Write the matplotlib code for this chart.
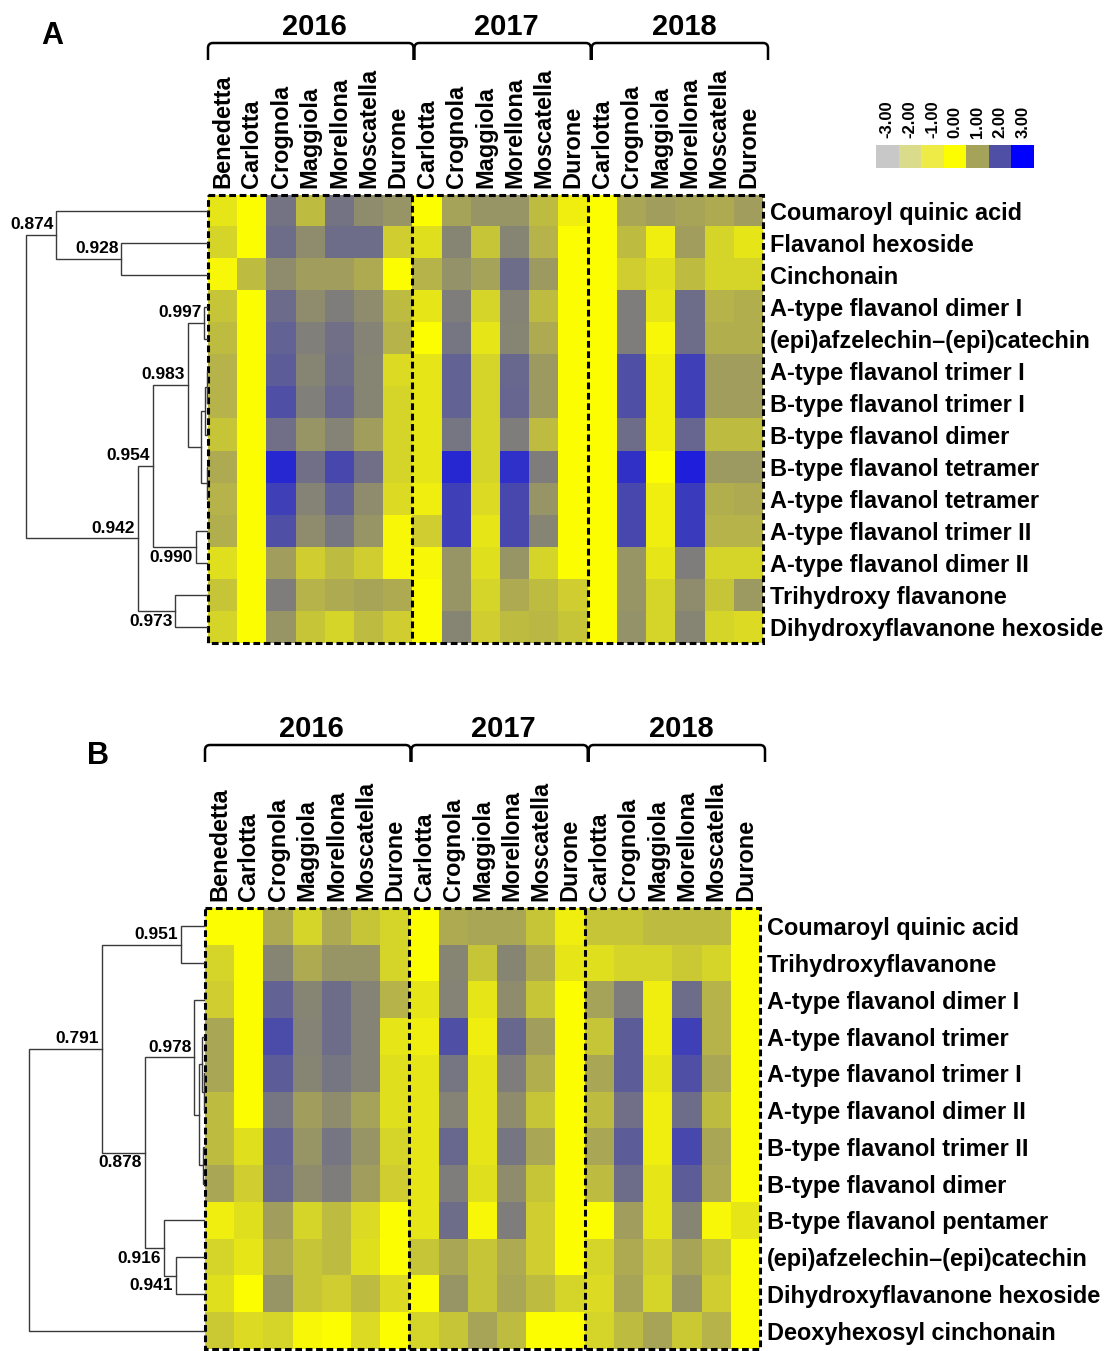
import numpy as np
import matplotlib
matplotlib.use("Agg")
import matplotlib.pyplot as plt
from matplotlib.colors import LinearSegmentedColormap
from matplotlib.patches import Rectangle, PathPatch
from matplotlib.path import Path

plt.rcParams["font.family"] = ["Liberation Sans", "DejaVu Sans"]
plt.rcParams["font.weight"] = "bold"

# ---- data ----
years = ["2016", "2017", "2018"]
cols_2016 = ["Benedetta", "Carlotta", "Crognola", "Maggiola", "Morellona", "Moscatella", "Durone"]
cols_2017 = ["Carlotta", "Crognola", "Maggiola", "Morellona", "Moscatella", "Durone"]
cols_2018 = ["Carlotta", "Crognola", "Maggiola", "Morellona", "Moscatella", "Durone"]
columns = cols_2016 + cols_2017 + cols_2018
group_sizes = [len(cols_2016), len(cols_2017), len(cols_2018)]

legend_values = [-3, -2, -1, 0, 1, 2, 3]
legend_colors = ["#c8c8c8", "#dcdc8c", "#eeea46", "#ffff00", "#a5a25a", "#5050a5", "#0000ff"]

rows_a = ["Coumaroyl quinic acid", "Flavanol hexoside", "Cinchonain", "A-type flavanol dimer I",
          "(epi)afzelechin\u2013(epi)catechin", "A-type flavanol trimer I", "B-type flavanol trimer I",
          "B-type flavanol dimer", "B-type flavanol tetramer", "A-type flavanol tetramer",
          "A-type flavanol trimer II", "A-type flavanol dimer II", "Trihydroxy flavanone",
          "Dihydroxyflavanone hexoside"]

a_2016 = [[0.26, 0, 1.56, 0.72, 1.56, 1.25, 1.15],
          [0.45, 0, 1.63, 1.25, 1.63, 1.63, 0.52],
          [0.08, 0.72, 1.25, 1.05, 1.05, 0.90, 0],
          [0.62, 0, 1.66, 1.25, 1.45, 1.25, 0.72],
          [0.72, 0, 1.76, 1.42, 1.60, 1.38, 0.80],
          [0.80, 0, 1.85, 1.34, 1.63, 1.34, 0.38],
          [0.80, 0, 2.00, 1.42, 1.72, 1.34, 0.45],
          [0.62, 0, 1.60, 1.15, 1.38, 1.05, 0.45],
          [0.90, 0, 2.50, 1.60, 2.10, 1.60, 0.45],
          [0.80, 0, 2.20, 1.38, 1.76, 1.25, 0.38],
          [0.86, 0, 2.00, 1.25, 1.53, 1.15, 0.08],
          [0.34, 0, 1.05, 0.52, 0.72, 0.52, 0.08],
          [0.62, 0, 1.45, 0.80, 0.90, 0.98, 0.90],
          [0.45, 0, 1.15, 0.62, 0.45, 0.72, 0.52]]
a_2017 = [[0, 1.00, 1.15, 1.15, 0.72, 0.17],
          [0.34, 1.34, 0.62, 1.34, 0.80, 0],
          [0.80, 1.18, 1.00, 1.63, 1.10, 0],
          [0.26, 1.45, 0.45, 1.38, 0.72, 0],
          [0, 1.53, 0.26, 1.34, 0.90, 0],
          [0.26, 1.76, 0.45, 1.70, 1.10, 0],
          [0.26, 1.76, 0.45, 1.72, 1.10, 0],
          [0.26, 1.53, 0.45, 1.45, 0.72, 0],
          [0.26, 2.50, 0.45, 2.40, 1.45, 0],
          [0.17, 2.20, 0.38, 2.10, 1.15, 0],
          [0.52, 2.20, 0.26, 2.10, 1.34, 0],
          [0.08, 1.15, 0.34, 1.15, 0.45, 0],
          [0, 1.15, 0.45, 0.90, 0.72, 0.52],
          [0, 1.34, 0.52, 0.72, 0.76, 0.62]]
a_2018 = [[0, 0.94, 1.05, 0.98, 0.90, 1.05],
          [0, 0.72, 0.17, 1.05, 0.45, 0.26],
          [0, 0.52, 0.34, 0.72, 0.45, 0.45],
          [0, 1.45, 0.26, 1.63, 0.80, 0.86],
          [0, 1.45, 0.08, 1.63, 0.86, 0.86],
          [0, 2.00, 0.17, 2.20, 1.05, 1.05],
          [0, 2.00, 0.17, 2.20, 1.05, 1.05],
          [0, 1.63, 0.17, 1.72, 0.72, 0.72],
          [0, 2.38, 0, 2.60, 1.10, 1.10],
          [0, 2.10, 0.17, 2.25, 0.86, 0.90],
          [0, 2.10, 0.17, 2.25, 0.80, 0.80],
          [0, 1.15, 0.26, 1.45, 0.45, 0.45],
          [0, 1.15, 0.45, 1.25, 0.62, 1.10],
          [0, 1.18, 0.45, 1.34, 0.45, 0.38]]

rows_b = ["Coumaroyl quinic acid", "Trihydroxyflavanone", "A-type flavanol dimer I",
          "A-type flavanol trimer", "A-type flavanol trimer I", "A-type flavanol dimer II",
          "B-type flavanol trimer II", "B-type flavanol dimer", "B-type flavanol pentamer",
          "(epi)afzelechin\u2013(epi)catechin", "Dihydroxyflavanone hexoside", "Deoxyhexosyl cinchonain"]

b_2016 = [[0, 0, 0.90, 0.45, 0.90, 0.62, 0.45],
          [0.45, 0, 1.34, 0.90, 1.15, 1.15, 0.45],
          [0.52, 0, 1.76, 1.34, 1.63, 1.38, 0.80],
          [0.94, 0, 2.05, 1.38, 1.63, 1.38, 0.26],
          [0.94, 0, 1.85, 1.34, 1.53, 1.38, 0.34],
          [0.72, 0, 1.53, 1.05, 1.25, 1.00, 0.34],
          [0.72, 0.34, 1.76, 1.15, 1.53, 1.15, 0.45],
          [0.94, 0.52, 1.70, 1.25, 1.45, 1.05, 0.52],
          [0.17, 0.34, 1.05, 0.45, 0.72, 0.38, 0],
          [0.45, 0.26, 0.90, 0.62, 0.72, 0.34, 0],
          [0.34, 0, 1.15, 0.62, 0.52, 0.72, 0.38],
          [0.58, 0.38, 0.45, 0.08, 0, 0.38, 0]]
b_2017 = [[0, 0.90, 0.94, 0.94, 0.62, 0.17],
          [0, 1.34, 0.62, 1.34, 0.90, 0.26],
          [0.26, 1.38, 0.26, 1.25, 0.62, 0],
          [0.17, 2.00, 0.17, 1.70, 1.05, 0],
          [0.26, 1.53, 0.26, 1.45, 0.86, 0],
          [0.26, 1.38, 0.26, 1.25, 0.62, 0],
          [0.26, 1.70, 0.26, 1.53, 0.94, 0],
          [0.26, 1.45, 0.34, 1.25, 0.62, 0],
          [0.26, 1.63, 0.08, 1.45, 0.52, 0],
          [0.62, 0.94, 0.62, 0.90, 0.52, 0],
          [0, 1.15, 0.62, 0.94, 0.72, 0.45],
          [0.45, 0.62, 0.98, 0.72, 0, 0]]
b_2018 = [[0.62, 0.62, 0.72, 0.72, 0.72, 0],
          [0.34, 0.45, 0.45, 0.58, 0.45, 0],
          [1.00, 1.45, 0.17, 1.63, 0.80, 0],
          [0.62, 1.85, 0.17, 2.20, 0.80, 0],
          [0.94, 1.85, 0.26, 2.00, 0.94, 0],
          [0.72, 1.60, 0.17, 1.63, 0.72, 0],
          [0.94, 1.85, 0.17, 2.10, 0.94, 0],
          [0.72, 1.63, 0.26, 1.85, 0.90, 0],
          [0, 1.05, 0.26, 1.34, 0.08, 0.26],
          [0.45, 0.90, 0.52, 0.98, 0.62, 0],
          [0.38, 0.98, 0.45, 1.15, 0.52, 0],
          [0.45, 0.72, 0.98, 0.58, 0.80, 0]]

# dendrogram merges: (child, child, similarity, label side: 1 above, -1 below, 0 none)
links_a = [(5, 6, 0.9995, 0), (14, 7, 0.9975, 0), (8, 9, 0.999, 0), (15, 16, 0.994, 0),
           (3, 4, 0.997, 1), (18, 17, 0.983, 1), (10, 11, 0.990, -1), (19, 20, 0.954, 1),
           (12, 13, 0.973, -1), (21, 22, 0.942, 1), (1, 2, 0.928, 1), (0, 24, 0.874, 1),
           (25, 23, 0.849, 0)]
links_b = [(0, 1, 0.951, 1), (4, 5, 0.997, 0), (3, 13, 0.994, 0), (6, 7, 0.996, 0),
           (14, 15, 0.988, 0), (2, 16, 0.978, 1), (9, 10, 0.941, -1), (8, 18, 0.916, -1),
           (17, 19, 0.878, -1), (12, 20, 0.791, 1), (21, 11, 0.643, 0)]

vals_a = np.hstack([a_2016, a_2017, a_2018])
vals_b = np.hstack([b_2016, b_2017, b_2018])

# ---- drawing ----
W, H = 1104, 1351
cmap = LinearSegmentedColormap.from_list("ylbu", list(zip(np.linspace(0, 1, 7), legend_colors)))
LAB = 16.9
DASH = (0, (2.2, 1.2))


def px_axes(fig, l, t, r, b):
    return fig.add_axes([l / W, 1 - b / H, (r - l) / W, (b - t) / H])


def draw_dendro(ax, n, links, span):
    pos = {i: (0.0, float(i)) for i in range(n)}
    for k, (a, b, sim, side) in enumerate(links):
        d = 1 - sim
        xa, ya = pos[a]
        xb, yb = pos[b]
        ax.plot([xa, d, d, xb], [ya, ya, yb, yb], color="#3a3a3a", lw=1.0, solid_joinstyle="miter")
        ym = (ya + yb) / 2
        pos[n + k] = (d, ym)
        if side:
            ax.annotate(f"{sim:.3f}", (d, ym), xytext=(-2, 2 * side), textcoords="offset points",
                        ha="right", va="bottom" if side > 0 else "top", fontsize=12.5)
    ax.set_xlim(span, 0)
    ax.set_ylim(n - 0.5, -0.5)
    ax.axis("off")


def draw_heat(ax, vals, row_labels):
    nr, nc = vals.shape
    ax.imshow(vals, cmap=cmap, vmin=-3, vmax=3, aspect="auto", interpolation="nearest")
    ax.set_xticks(range(nc))
    ax.set_xticklabels(columns, rotation=90, fontsize=LAB)
    ax.xaxis.tick_top()
    ax.set_yticks(range(nr))
    ax.set_yticklabels(row_labels, fontsize=LAB)
    ax.yaxis.tick_right()
    ax.tick_params(length=0, pad=5)
    for s in ax.spines.values():
        s.set_visible(False)
    ax.add_patch(Rectangle((-0.5, -0.5), nc, nr, fill=False, ec="black", lw=2.2, ls=DASH, clip_on=False))
    edge = -0.5
    for g in group_sizes[:-1]:
        edge += g
        ax.plot([edge, edge], [-0.5, nr - 0.5], color="black", lw=2.2, ls=DASH, clip_on=False)


def draw_brackets(ov, left, right, y_top, y_bot):
    cw = (right - left) / sum(group_sizes)
    start = 0
    r = 5
    for i, (yr, g) in enumerate(zip(years, group_sizes)):
        x0 = left + start * cw + 2 * i
        x1 = left + (start + g) * cw + 2 * i + 1
        verts = [(x0, y_bot), (x0, y_top + r), (x0, y_top), (x0 + r, y_top),
                 (x1 - r, y_top), (x1, y_top), (x1, y_top + r), (x1, y_bot)]
        codes = [Path.MOVETO, Path.LINETO, Path.CURVE3, Path.CURVE3,
                 Path.LINETO, Path.CURVE3, Path.CURVE3, Path.LINETO]
        ov.add_patch(PathPatch(Path(verts, codes), fill=False, lw=1.8, ec="black"))
        ov.text((x0 + x1) / 2 + 4, y_top - 2, yr, ha="center", va="bottom", fontsize=21)
        start += g


fig = plt.figure(figsize=(W / 100, H / 100), dpi=100)

# panel A
ha = px_axes(fig, 208, 195, 763, 643)
draw_heat(ha, vals_a, rows_a)
da = px_axes(fig, 0, 195, 208, 643)
draw_dendro(da, len(rows_a), links_a, 0.1725)

# panel B
hb = px_axes(fig, 205, 908, 760, 1349)
draw_heat(hb, vals_b, rows_b)
db = px_axes(fig, 0, 908, 205, 1349)
draw_dendro(db, len(rows_b), links_b, 0.416)

# overlay for brackets and panel letters
ov = px_axes(fig, 0, 0, W, H)
ov.set_xlim(0, W)
ov.set_ylim(H, 0)
ov.axis("off")
ov.set_zorder(-1)
draw_brackets(ov, 208, 763, 43, 60)
draw_brackets(ov, 205, 760, 745, 762)
ov.text(52, 36, "A", ha="center", va="center", fontsize=22)
ov.text(98, 756, "B", ha="center", va="center", fontsize=22)

# colour key
lg = px_axes(fig, 876, 145, 1034, 168)
lg.imshow(np.array(legend_values)[None, :], cmap=cmap, vmin=-3, vmax=3, aspect="auto")
lg.set_xticks(range(len(legend_values)))
lg.set_xticklabels([f"{v:.2f}" for v in legend_values], rotation=90, fontsize=12)
lg.xaxis.tick_top()
lg.set_yticks([])
lg.tick_params(length=0, pad=5)
for s in lg.spines.values():
    s.set_visible(False)

fig.savefig("out.png", dpi=100)
